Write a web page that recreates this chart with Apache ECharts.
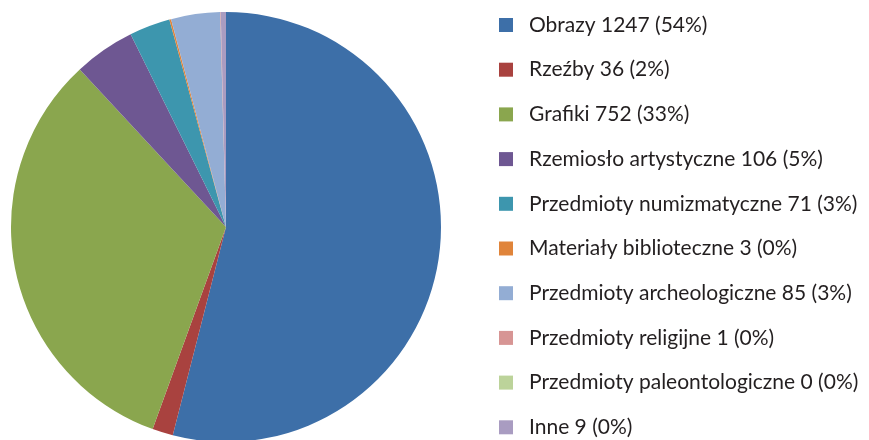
<!DOCTYPE html>
<html><head><meta charset="utf-8">
<script src="https://cdn.jsdelivr.net/npm/echarts@6/dist/echarts.min.js"></script>
<style>html,body{margin:0;padding:0;background:#fff}#c{width:869px;height:440px}</style>
</head><body><div id="c"></div>
<script>
const categories = ["Obrazy","Rzeźby","Grafiki","Rzemiosło artystyczne","Przedmioty numizmatyczne","Materiały biblioteczne","Przedmioty archeologiczne","Przedmioty religijne","Przedmioty paleontologiczne","Inne"];
const values = [1247, 36, 752, 106, 71, 3, 85, 1, 0, 9];
const percents = [54, 2, 33, 5, 3, 0, 3, 0, 0, 0];
const colors = ["#3D6FA8","#A9423F","#8AA64E","#6E5792","#3D96AE","#E0843A","#93ADD4","#D79594","#BCD39A","#A99CC1"];

const chart = echarts.init(document.getElementById('c'));
chart.setOption({
  animation: false,
  color: colors,
  legend: {
    orient: 'vertical',
    left: 494,
    top: 9.5,
    height: 470,
    padding: 5,
    itemWidth: 14,
    itemHeight: 14,
    itemGap: 23.7,
    icon: 'rect',
    data: categories,
    formatter: function (name) {
      const i = categories.indexOf(name);
      return name + ' ' + values[i] + ' (' + percents[i] + '%)';
    },
    textStyle: { fontFamily: 'Lato', fontSize: 21, lineHeight: 21, color: '#231F20', padding: [0,0,0,11] }
  },
  series: [{
    type: 'pie',
    center: [226, 227],
    radius: 215,
    startAngle: 90,
    clockwise: true,
    label: { show: false },
    labelLine: { show: false },
    stillShowZeroSum: true,
    itemStyle: { borderWidth: 0 },
    emphasis: { disabled: true },
    data: categories.map((n, i) => ({ name: n, value: values[i] }))
  }]
});
</script></body></html>
